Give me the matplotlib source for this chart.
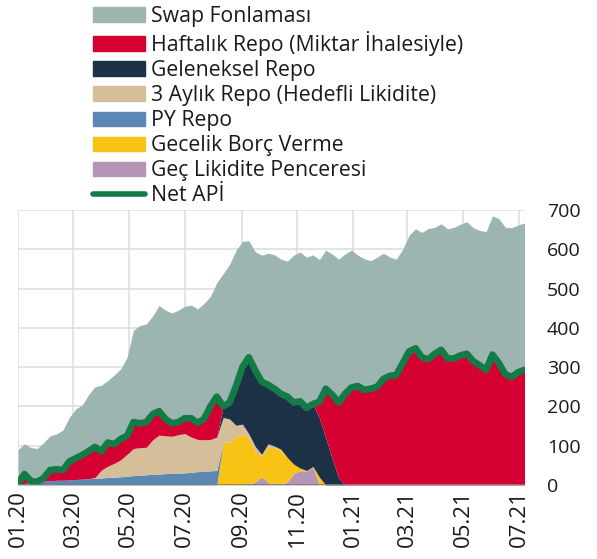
import matplotlib
matplotlib.use('Agg')
import matplotlib.pyplot as plt
import matplotlib.dates as mdates
import numpy as np
import pandas as pd
from matplotlib.patches import Patch
from matplotlib.lines import Line2D

plt.rcParams['font.family'] = ['Open Sans', 'DejaVu Sans']

# ---------------- data (weekly, billion TL) ----------------
dates = pd.date_range('2020-01-01', periods=80, freq='7D')

net_api = [5, 28, 10, 8, 18, 38, 40, 38, 60, 68,
           76, 86, 97, 86, 108, 104, 117, 125, 160, 157,
           160, 180, 188, 168, 157, 160, 170, 170, 158, 168,
           200, 225, 200, 210, 252, 300, 325, 292, 263, 255,
           245, 232, 225, 210, 213, 196, 206, 212, 245, 230,
           210, 232, 248, 252, 242, 245, 250, 270, 278, 280,
           310, 340, 348, 325, 320, 334, 344, 322, 322, 330,
           334, 315, 305, 293, 332, 310, 282, 275, 287, 293]

swap = [85, 77, 85, 85, 90, 87, 90, 102, 112, 126,
        127, 144, 153, 168, 158, 176, 178, 200, 234, 249,
        250, 250, 269, 277, 281, 285, 285, 288, 290, 294,
        280, 290, 338, 352, 345, 320, 297, 302, 322, 335,
        341, 343, 345, 375, 380, 384, 380, 362, 353, 358,
        365, 356, 350, 333, 334, 326, 330, 320, 302, 295,
        290, 296, 304, 318, 333, 322, 321, 330, 334, 334,
        336, 340, 343, 352, 353, 368, 374, 380, 375, 374]

haftalik = [3, 24, 4, 0, 8, 27, 28, 26, 47, 54,
            61, 70, 78, 48, 60, 49, 53, 47, 67, 62,
            64, 65, 61, 43, 33, 32, 39, 48, 42, 53,
            84, 103, 0, 0, 0, 0, 0, 0, 0, 0,
            0, 0, 0, 0, 0, 0, 0, 42, 125, 162,
            192, 232, 248, 252, 242, 245, 250, 270, 278, 280,
            310, 340, 348, 325, 320, 334, 344, 322, 322, 330,
            334, 315, 305, 293, 332, 310, 282, 275, 287, 293]

geleneksel = [0] * 32 + [28, 42, 100, 145, 195, 194, 185, 150,
                         146, 141, 155, 157, 170, 159, 159, 150, 120, 68,
                         18] + [0] * 29

aylik3 = [0] * 12 + [2, 20, 29, 35, 43, 56, 69, 70,
                     70, 88, 99, 96, 94, 98, 100, 90, 82, 80,
                     80, 85, 62, 60, 29, 25, 10, 14, 3, 9,
                     4, 2] + [0] * 38

py_repo = [2, 4, 6, 8, 10, 11, 12, 12, 13, 14,
           15, 16, 17, 18, 19, 20, 21, 22, 24, 25,
           26, 27, 28, 29, 30, 30, 31, 32, 34, 35,
           36, 37] + [0] * 48

gecelik = [0] * 32 + [110, 108, 123, 130, 118, 76, 54, 90,
                      93, 87, 62, 23, 7, 1, 2, 20] + [0] * 32

gec_lik = [0] * 36 + [2, 8, 21, 6, 2, 2, 8, 30, 36, 36, 45] + [0] * 33

labels = ['Swap Fonlaması', 'Haftalık Repo (Miktar İhalesiyle)', 'Geleneksel Repo',
          '3 Aylık Repo (Hedefli Likidite)', 'PY Repo', 'Gecelik Borç Verme',
          'Geç Likidite Penceresi', 'Net APİ']

c_swap = '#9db5b1'
c_haft = '#d50032'
c_gel = '#1c3046'
c_3ay = '#d5bf9b'
c_py = '#5b87b3'
c_gec = '#f9c315'
c_glp = '#b595b5'
c_net = '#137b45'

# ---------------- figure ----------------
fig = plt.figure(figsize=(5.97, 5.59), dpi=100)
ax = fig.add_axes([0.0302, 0.1324, 0.8484, 0.4919])

layers = [(gec_lik, c_glp), (gecelik, c_gec), (py_repo, c_py), (aylik3, c_3ay),
          (geleneksel, c_gel), (haftalik, c_haft), (swap, c_swap)]
base = np.zeros(len(dates))
for vals, col in layers:
    top = base + np.asarray(vals, dtype=float)
    ax.fill_between(dates, base, top, color=col, lw=0, zorder=2)
    base = top

ax.plot(dates, net_api, color=c_net, lw=4.8, solid_capstyle='round',
        solid_joinstyle='round', zorder=5)
ax.axhline(0, color='#7f7f7f', lw=1.3, zorder=6)

ax.set_xlim(dates[0], dates[-1])
ax.set_ylim(0, 700)
ax.set_yticks(range(0, 701, 100))
ax.yaxis.tick_right()
ax.xaxis.set_major_locator(mdates.MonthLocator(bymonth=[1, 3, 5, 7, 9, 11]))
ax.xaxis.set_major_formatter(mdates.DateFormatter('%m.%y'))
ax.tick_params(axis='x', length=0, pad=4, labelsize=16, labelrotation=90, colors='#1a1a1a')
ax.tick_params(axis='y', length=0, pad=16, labelsize=14, colors='#1a1a1a')
for s in ax.spines.values():
    s.set_visible(False)
ax.grid(True, color='#dcdcdc', lw=1.1)
ax.set_axisbelow(True)

handles = [Patch(color=c_swap), Patch(color=c_haft), Patch(color=c_gel), Patch(color=c_3ay),
           Patch(color=c_py), Patch(color=c_gec), Patch(color=c_glp),
           Line2D([], [], color=c_net, lw=4, solid_capstyle='round')]
fig.legend(handles, labels, loc='upper left', bbox_to_anchor=(93 / 597, 1 - 6 / 559),
           frameon=False, fontsize=15.3, handlelength=2.45, handleheight=0.66,
           handletextpad=0.3, labelspacing=0.19, borderpad=0, borderaxespad=0,
           labelcolor='#1a1a1a')

fig.savefig('out.png', dpi=100)
